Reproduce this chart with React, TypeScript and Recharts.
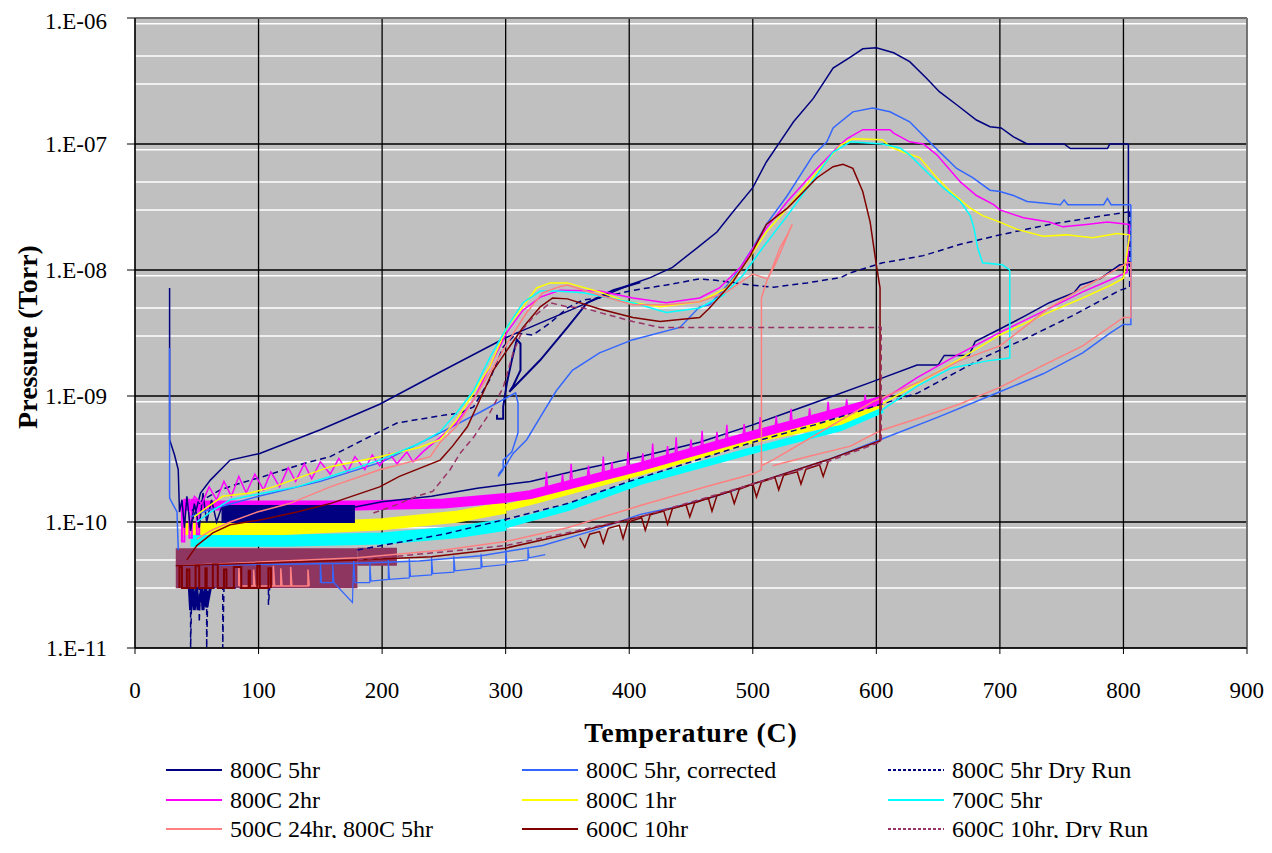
import React from 'react';
import { LineChart, Line, XAxis, YAxis, CartesianGrid, ReferenceLine } from 'recharts';

type Pt = [number, number];

// axes
const TEMP_TICKS = [0, 100, 200, 300, 400, 500, 600, 700, 800, 900];
const DECADES = [1e-11, 1e-10, 1e-9, 1e-8, 1e-7, 1e-6];
const MINOR_GRID = DECADES.slice(0, 5).flatMap((d) => [2, 3, 4, 5, 6, 7, 8, 9].map((k) => k * d));

// 800C 5hr
const N5_START: Pt[] = [[28, 7.2e-9], [28, 4.5e-10], [32, 3.4e-10], [35, 2.6e-10], [36, 1.2e-10], [38, 1.5e-10], [40, 9e-11], [42, 1.6e-10], [45, 8.5e-11], [48, 1.4e-10], [52, 9e-11], [55, 1.7e-10], [58, 1e-10], [62, 1.5e-10], [66, 1.0e-10], [70, 1.3e-10]];
const N5_BAND: Pt[] = [[70, 1.16e-10], [178, 1.16e-10]];
const N5_HEAT: Pt[] = [[175, 1.3e-10], [200, 1.45e-10], [240, 1.6e-10], [277, 1.85e-10], [320, 2.1e-10], [360, 2.6e-10], [409, 3.3e-10], [457, 4.3e-10], [500, 5.9e-10], [533, 7.7e-10], [560, 9.6e-10], [597, 1.3e-9], [633, 1.76e-9], [650, 1.76e-9], [655, 2.1e-9], [675, 2.1e-9], [680, 2.7e-9], [700, 3.4e-9], [720, 4.3e-9], [740, 5.5e-9], [760, 6.6e-9], [765, 7.6e-9], [781, 8.5e-9], [797, 1.1e-8], [804, 1.1e-8], [804, 1e-7]];
const N5_COOL: Pt[] = [[804, 1e-7], [789, 1e-7], [787, 9.2e-8], [757, 9.2e-8], [752, 1e-7], [722, 1e-7], [711, 1.14e-7], [701, 1.34e-7], [692, 1.37e-7], [681, 1.55e-7], [665, 2.05e-7], [651, 2.6e-7], [641, 3.3e-7], [627, 4.5e-7], [614, 5.3e-7], [600, 5.8e-7], [589, 5.7e-7], [579, 4.9e-7], [565, 4.0e-7], [549, 2.3e-7], [533, 1.5e-7], [522, 1.04e-7], [511, 7.2e-8], [500, 4.5e-8], [484, 2.9e-8], [471, 2.0e-8], [455, 1.5e-8], [435, 1.05e-8], [417, 8.7e-9], [400, 7.6e-9], [350, 4.7e-9], [300, 2.9e-9], [247, 1.55e-9], [198, 8.6e-10], [150, 5.4e-10], [101, 3.5e-10], [77, 3.1e-10], [61, 2.15e-10], [53, 1.7e-10], [50, 1.3e-10], [46, 1.0e-10]];
const N5_MID: Pt[] = [[293, 7.1e-10], [293, 6.6e-10], [298, 6.6e-10], [298, 8.2e-10], [301, 1.27e-9], [305, 1.93e-9], [309, 2.8e-9], [312, 2.6e-9], [312, 1.6e-9], [306, 1.2e-9], [303, 1.08e-9], [328, 1.93e-9], [350, 3.5e-9], [366, 5.5e-9], [387, 6.9e-9], [409, 8.0e-9]];
const N5_FLOOR: Pt[] = [[44, 3e-11], [45, 2e-11], [47, 3e-11], [48, 2e-11], [50, 3e-11], [51, 2e-11], [54, 3e-11], [55, 2e-11], [57, 3e-11], [58, 2.1e-11], [61, 3e-11]];

// 800C 5hr, corrected
const B_START: Pt[] = [[28, 2.4e-9], [28, 1.55e-10], [34, 1.2e-10], [35, 6e-11]];
const B_HEAT: Pt[] = [[35, 4.5e-11], [100, 4.6e-11], [180, 4.7e-11], [230, 4.9e-11], [280, 5.4e-11], [330, 6.5e-11], [370, 8.5e-11], [409, 1.15e-10], [435, 1.3e-10], [470, 1.6e-10], [500, 2.0e-10], [530, 2.5e-10], [560, 3.1e-10], [603, 4.5e-10], [650, 6.8e-10], [700, 1.08e-9], [735, 1.5e-9], [767, 2.2e-9], [790, 3.2e-9], [800, 3.7e-9], [806, 3.7e-9], [806, 3.3e-8]];
const B_NOISE: Pt[] = [[150, 3.3e-11], [150, 4.8e-11], [151, 3.3e-11], [160, 3.3e-11], [160, 4.6e-11], [161, 3.3e-11], [176, 2.3e-11], [177, 5e-11], [178, 3.3e-11], [190, 3.3e-11], [190, 4.8e-11], [191, 3.4e-11], [205, 3.5e-11], [205, 5e-11], [206, 3.5e-11], [222, 3.6e-11], [222, 5.1e-11], [223, 3.7e-11], [240, 3.8e-11], [240, 5.3e-11], [241, 3.9e-11], [258, 4.0e-11], [258, 5.4e-11], [259, 4.1e-11], [280, 4.3e-11], [280, 5.6e-11], [281, 4.4e-11], [300, 4.6e-11], [300, 6e-11], [301, 4.8e-11], [318, 5e-11], [318, 6.2e-11], [319, 5.2e-11], [332, 5.5e-11]];
const B_COOL: Pt[] = [[806, 3.3e-8], [790, 3.3e-8], [787, 3.7e-8], [784, 3.3e-8], [755, 3.3e-8], [752, 3.6e-8], [749, 3.3e-8], [722, 3.5e-8], [711, 3.9e-8], [700, 4.2e-8], [692, 4.3e-8], [678, 5.4e-8], [665, 6.4e-8], [643, 1.04e-7], [627, 1.5e-7], [611, 1.8e-7], [597, 1.93e-7], [581, 1.8e-7], [565, 1.34e-7], [560, 1.04e-7], [549, 8.2e-8], [528, 3.9e-8], [511, 2.3e-8], [500, 1.5e-8], [490, 1.05e-8], [482, 8.1e-9], [465, 5.3e-9], [457, 5.1e-9], [441, 3.5e-9], [403, 2.8e-9], [376, 2.2e-9], [354, 1.6e-9], [341, 1.1e-9], [328, 6.8e-10], [317, 4.5e-10], [306, 3.5e-10], [301, 2.9e-10], [295, 2.45e-10], [294, 2.3e-10], [298, 2.6e-10], [298, 3.1e-10], [305, 3.6e-10], [310, 5.1e-10], [310, 8.8e-10], [308, 1.06e-9], [280, 7.5e-10], [247, 5.1e-10], [200, 3.0e-10], [150, 2.1e-10], [100, 1.6e-10], [60, 1.25e-10], [45, 1.1e-10]];

// 800C 5hr Dry Run
const D_HEAT: Pt[] = [[180, 6e-11], [250, 8e-11], [300, 1.05e-10], [350, 1.4e-10], [400, 2.1e-10], [450, 3e-10], [500, 4.3e-10], [550, 5.9e-10], [597, 8.2e-10], [633, 1.05e-9], [686, 2.0e-9], [727, 3.05e-9], [760, 4.4e-9], [797, 6.9e-9], [805, 7.3e-9], [805, 2.9e-8]];
const D_COOL: Pt[] = [[805, 2.9e-8], [784, 2.7e-8], [740, 2.3e-8], [700, 1.9e-8], [668, 1.6e-8], [638, 1.3e-8], [605, 1.14e-8], [579, 9.5e-9], [571, 8.7e-9], [544, 7.9e-9], [517, 7.3e-9], [498, 7.6e-9], [470, 8.3e-9], [457, 8.5e-9], [430, 7.6e-9], [403, 6.9e-9], [376, 6.0e-9], [363, 5.8e-9], [350, 5.0e-9], [336, 3.8e-9], [322, 3.05e-9], [309, 3.16e-9], [298, 2.45e-9], [287, 1.34e-9], [274, 8.2e-10], [263, 7.3e-10], [252, 7.1e-10], [212, 6.1e-10], [185, 4.5e-10], [158, 3.3e-10], [136, 2.9e-10], [104, 2.3e-10], [83, 2.0e-10], [69, 1.8e-10], [55, 1.5e-10], [45, 1.2e-10]];
const D_SPIKES: Pt[] = [[40, 3e-11], [45, 3e-11], [45, 1e-11], [46, 3e-11], [52, 3e-11], [52, 1.6e-11], [53, 3e-11], [58, 3e-11], [58, 1e-11], [59, 3e-11], [71, 3e-11], [71, 1e-11], [72, 3e-11], [108, 3e-11], [108, 2.2e-11], [109, 3e-11]];

// 800C 2hr
const M_LEFT: Pt[] = [[38, 1.5e-10], [38, 7e-11], [40, 7e-11], [40, 1.5e-10], [44, 1.5e-10], [44, 7.5e-11], [46, 7.5e-11], [46, 1.5e-10], [50, 1.5e-10], [50, 8e-11], [52, 8e-11], [52, 1.4e-10]];
const M_BAND_L: Pt[] = [[38, 1.35e-10], [100, 1.35e-10], [180, 1.35e-10], [250, 1.4e-10], [300, 1.55e-10]];
const M_BAND_R: Pt[] = [[300, 1.55e-10], [320, 1.65e-10], [409, 2.75e-10], [500, 4.9e-10], [571, 7.5e-10], [605, 9.3e-10]];
const M_SPIKES: Pt[] = [[332, 1.75e-10], [333, 2.5e-10], [334, 1.75e-10], [345, 1.9e-10], [346, 2.4e-10], [347, 1.9e-10], [352, 2.0e-10], [353, 2.9e-10], [354, 2.0e-10], [366, 2.2e-10], [367, 2.8e-10], [368, 2.2e-10], [378, 2.3e-10], [379, 3.3e-10], [380, 2.3e-10], [385, 2.4e-10], [386, 3.0e-10], [387, 2.4e-10], [398, 2.6e-10], [399, 3.6e-10], [400, 2.6e-10], [410, 2.8e-10], [411, 3.5e-10], [412, 2.8e-10], [418, 2.95e-10], [419, 4.2e-10], [420, 2.95e-10], [430, 3.2e-10], [431, 4.0e-10], [432, 3.2e-10], [437, 3.3e-10], [438, 4.7e-10], [439, 3.3e-10], [449, 3.6e-10], [450, 4.5e-10], [451, 3.6e-10], [458, 3.8e-10], [459, 5.3e-10], [460, 3.8e-10], [470, 4.1e-10], [471, 5.2e-10], [472, 4.1e-10], [478, 4.3e-10], [479, 5.9e-10], [480, 4.3e-10], [492, 4.7e-10], [493, 6.0e-10], [494, 4.7e-10], [505, 5.0e-10], [506, 6.8e-10], [507, 5.0e-10], [518, 5.5e-10], [519, 6.9e-10], [520, 5.5e-10], [530, 5.9e-10], [531, 7.9e-10], [532, 5.9e-10], [545, 6.4e-10], [546, 8.0e-10], [547, 6.4e-10], [560, 7.0e-10], [561, 9.0e-10], [562, 7.0e-10], [575, 7.7e-10], [576, 9.4e-10], [577, 7.7e-10], [590, 8.5e-10], [591, 1.02e-9], [592, 8.5e-10]];
const M_HEAT: Pt[] = [[605, 9.3e-10], [633, 1.4e-9], [665, 2.1e-9], [700, 3.2e-9], [735, 4.7e-9], [767, 6.7e-9], [790, 8.4e-9], [803, 9.6e-9], [805, 2.3e-8]];
const M_COOL: Pt[] = [[805, 2.3e-8], [787, 2.4e-8], [770, 2.3e-8], [751, 2.2e-8], [740, 2.4e-8], [719, 2.6e-8], [700, 3.0e-8], [695, 3.3e-8], [681, 3.9e-8], [668, 5.0e-8], [649, 8.2e-8], [638, 1.0e-7], [627, 1.04e-7], [614, 1.22e-7], [611, 1.3e-7], [589, 1.3e-7], [576, 1.1e-7], [568, 9.3e-8], [552, 6.4e-8], [528, 3.5e-8], [511, 2.15e-8], [490, 1.05e-8], [473, 7.2e-9], [457, 6.0e-9], [430, 5.5e-9], [403, 6.0e-9], [376, 6.8e-9], [344, 6.9e-9], [328, 6.1e-9], [314, 4.8e-9], [301, 3.2e-9], [287, 1.7e-9], [274, 9.3e-10], [260, 6.1e-10], [247, 4.7e-10], [233, 3.6e-10], [225, 3.0e-10], [220, 3.6e-10], [212, 2.9e-10], [206, 3.5e-10], [198, 2.8e-10], [192, 3.4e-10], [186, 2.6e-10], [178, 3.3e-10], [172, 2.5e-10], [165, 3.2e-10], [158, 2.4e-10], [150, 3.0e-10], [143, 2.2e-10], [137, 2.9e-10], [130, 2.1e-10], [124, 2.7e-10], [117, 1.9e-10], [110, 2.5e-10], [104, 1.8e-10], [97, 2.4e-10], [90, 1.7e-10], [84, 2.3e-10], [78, 1.6e-10], [72, 2.1e-10], [66, 1.5e-10], [60, 1.9e-10], [54, 1.4e-10], [48, 1.6e-10], [44, 1.2e-10]];

// 800C 1hr
const Y_BAND_L: Pt[] = [[38, 8.8e-11], [120, 8.8e-11], [200, 9.6e-11], [260, 1.1e-10], [300, 1.3e-10]];
const Y_BAND_R: Pt[] = [[300, 1.3e-10], [320, 1.45e-10], [409, 2.5e-10], [500, 4.5e-10], [571, 6.3e-10], [605, 8.7e-10]];
const Y_HEAT: Pt[] = [[605, 8.7e-10], [633, 1.25e-9], [665, 1.9e-9], [700, 3.05e-9], [735, 4.4e-9], [767, 6.0e-9], [790, 7.6e-9], [800, 8.6e-9], [805, 1.9e-8]];
const Y_COOL: Pt[] = [[805, 1.9e-8], [795, 1.95e-8], [775, 1.8e-8], [754, 1.9e-8], [735, 1.85e-8], [714, 2.1e-8], [700, 2.4e-8], [686, 2.7e-8], [676, 3.1e-8], [660, 4.2e-8], [649, 5.4e-8], [635, 7.8e-8], [622, 8.6e-8], [611, 9.5e-8], [605, 1.08e-7], [581, 1.1e-7], [571, 9.8e-8], [552, 6.0e-8], [528, 3.1e-8], [511, 2.0e-8], [495, 1.16e-8], [479, 7.2e-9], [457, 5.6e-9], [425, 5.1e-9], [398, 5.6e-9], [376, 6.7e-9], [350, 7.9e-9], [336, 7.9e-9], [325, 7.2e-9], [314, 5.1e-9], [301, 3.5e-9], [287, 1.7e-9], [274, 1.06e-9], [260, 6.4e-10], [247, 4.5e-10], [230, 3.9e-10], [198, 3.3e-10], [158, 2.75e-10], [130, 2.2e-10], [112, 1.9e-10], [93, 1.7e-10], [71, 1.6e-10], [58, 1.3e-10], [48, 1.1e-10]];

// 700C 5hr
const C_BAND_L: Pt[] = [[45, 7.1e-11], [120, 7.1e-11], [200, 7.4e-11], [260, 8.3e-11], [300, 9.5e-11]];
const C_BAND_R: Pt[] = [[300, 9.5e-11], [350, 1.3e-10], [409, 2.1e-10], [500, 3.7e-10], [571, 5.6e-10], [605, 7.8e-10]];
const C_HEAT: Pt[] = [[605, 7.8e-10], [633, 1.2e-9], [660, 1.66e-9], [690, 1.9e-9], [708, 2.0e-9], [708, 1.0e-8]];
const C_COOL: Pt[] = [[708, 1.0e-8], [702, 1.1e-8], [686, 1.14e-8], [682, 1.5e-8], [679, 2.15e-8], [676, 2.7e-8], [668, 3.5e-8], [654, 4.5e-8], [638, 6.4e-8], [627, 8.2e-8], [619, 9.3e-8], [605, 1.0e-7], [579, 1.04e-7], [576, 1.0e-7], [565, 8.6e-8], [552, 5.7e-8], [528, 2.7e-8], [508, 1.5e-8], [492, 9.1e-9], [476, 6.3e-9], [457, 5.0e-9], [430, 4.6e-9], [403, 5.5e-9], [363, 6.6e-9], [341, 6.8e-9], [328, 6.8e-9], [314, 5.5e-9], [301, 3.5e-9], [287, 2.0e-9], [274, 1.1e-9], [260, 7.3e-10], [247, 5.2e-10], [230, 4.2e-10], [198, 3.1e-10], [158, 2.3e-10], [131, 1.9e-10], [104, 1.7e-10], [77, 1.5e-10], [61, 1.2e-10], [50, 1.0e-10]];

// 500C 24hr, 800C 5hr
const S_RUN1: Pt[] = [[35, 4.5e-11], [180, 5.2e-11], [250, 6e-11], [300, 7e-11], [350, 9e-11], [409, 1.35e-10], [435, 1.6e-10], [470, 2e-10], [500, 2.4e-10], [507, 2.6e-10], [507, 6e-9], [511, 8e-9], [516, 1.05e-8], [522, 1.5e-8], [528, 1.9e-8], [532, 2.3e-8], [530, 2.1e-8], [524, 1.5e-8], [518, 1.1e-8], [512, 8.5e-9], [500, 9.3e-9], [495, 8.6e-9], [479, 6.7e-9], [457, 5.6e-9], [430, 5.3e-9], [403, 5.3e-9], [376, 6.3e-9], [350, 7.6e-9], [344, 7.4e-9], [330, 6.6e-9], [317, 4.6e-9], [303, 2.8e-9], [290, 1.7e-9], [274, 9.3e-10], [260, 5.7e-10], [247, 4.3e-10], [239, 3.3e-10], [198, 2.6e-10], [158, 1.9e-10], [125, 1.4e-10], [99, 1.2e-10], [77, 1.0e-10], [61, 8.5e-11], [50, 7.3e-11]];
const S_RUN2: Pt[] = [[507, 2.8e-10], [516, 3.1e-10], [571, 6.4e-10], [597, 9.0e-10], [635, 1.3e-9], [667, 1.9e-9], [700, 2.5e-9], [740, 5.0e-9], [767, 7.2e-9], [797, 1.05e-8], [803, 1.14e-8], [806, 1.14e-8], [806, 4.2e-9], [800, 4.2e-9], [767, 2.5e-9], [735, 1.75e-9], [700, 1.17e-9], [667, 8.6e-10], [633, 6.6e-10], [603, 5.3e-10], [579, 4.0e-10], [544, 3.3e-10], [516, 2.8e-10]];
const S_STRIPES: Pt[] = [[84, 3.1e-11], [84, 4.4e-11], [85, 3.1e-11], [96, 3.1e-11], [96, 4.2e-11], [97, 3.1e-11], [112, 3.1e-11], [112, 4.5e-11], [113, 3.1e-11], [118, 3.1e-11], [118, 4.3e-11], [119, 3.1e-11], [126, 3.1e-11], [126, 4.4e-11], [127, 3.1e-11], [140, 3.1e-11], [140, 4.2e-11], [141, 3.1e-11]];

// 600C 10hr
const R_RUN: Pt[] = [[33, 4.5e-11], [180, 5.0e-11], [240, 5.3e-11], [300, 6.2e-11], [350, 8e-11], [409, 1.1e-10], [455, 1.45e-10], [500, 2.0e-10], [530, 2.5e-10], [560, 3.1e-10], [600, 4.3e-10], [603, 4.4e-10], [603, 7.2e-9], [600, 1.1e-8], [595, 2.4e-8], [589, 4.2e-8], [581, 6.4e-8], [573, 6.9e-8], [565, 6.6e-8], [552, 5.4e-8], [528, 3.1e-8], [511, 2.3e-8], [498, 1.3e-8], [484, 8.1e-9], [465, 5.0e-9], [457, 4.2e-9], [425, 3.9e-9], [403, 4.2e-9], [376, 4.9e-9], [350, 5.9e-9], [338, 6.0e-9], [328, 5.1e-9], [314, 3.5e-9], [301, 2.3e-9], [290, 1.6e-9], [279, 9.3e-10], [269, 5.7e-10], [257, 4.0e-10], [247, 3.1e-10], [214, 2.3e-10], [198, 1.9e-10], [158, 1.4e-10], [131, 1.2e-10], [104, 1.05e-10], [77, 9.5e-11], [63, 8.2e-11], [50, 6.5e-11], [42, 5e-11]];
const R_NOISE: Pt[] = [[360, 7.5e-11], [364, 6.3e-11], [368, 8e-11], [376, 8.4e-11], [379, 6.8e-11], [383, 8.9e-11], [392, 9.4e-11], [395, 7.4e-11], [399, 1.0e-10], [410, 1.08e-10], [413, 8.6e-11], [417, 1.14e-10], [428, 1.22e-10], [431, 9.6e-11], [435, 1.28e-10], [446, 1.37e-10], [449, 1.1e-10], [453, 1.42e-10], [464, 1.55e-10], [467, 1.22e-10], [471, 1.62e-10], [482, 1.75e-10], [485, 1.4e-10], [489, 1.82e-10], [500, 2.0e-10], [503, 1.58e-10], [507, 2.08e-10], [518, 2.25e-10], [521, 1.8e-10], [525, 2.35e-10], [536, 2.5e-10], [539, 2.0e-10], [543, 2.62e-10], [554, 2.85e-10], [557, 2.3e-10], [561, 3.0e-10]];
const R_STRIPES: Pt[] = [[36, 3e-11], [36, 4.4e-11], [38, 4.4e-11], [38, 3e-11], [42, 3e-11], [42, 4.2e-11], [44, 4.2e-11], [44, 3e-11], [49, 3e-11], [49, 4.5e-11], [52, 4.5e-11], [52, 3e-11], [57, 3e-11], [57, 4.3e-11], [58, 4.3e-11], [58, 3e-11], [63, 3e-11], [63, 4.6e-11], [67, 4.6e-11], [67, 3e-11], [72, 3e-11], [72, 4.2e-11], [74, 4.2e-11], [74, 3e-11], [80, 3e-11], [80, 4.4e-11], [86, 4.4e-11], [86, 3e-11], [92, 3e-11], [92, 4.1e-11], [93, 4.1e-11], [93, 3e-11], [99, 3e-11], [99, 4.5e-11], [101, 4.5e-11], [101, 3e-11], [108, 3e-11], [108, 4.3e-11], [110, 4.3e-11], [110, 3e-11]];

// 600C 10hr, Dry Run
const P_BLOCK: Pt[] = [[33, 4.3e-11], [180, 4.3e-11]];
const P_BLOCK2: Pt[] = [[180, 5.3e-11], [212, 5.3e-11]];
const P_RUN: Pt[] = [[180, 5e-11], [250, 5.8e-11], [300, 6.5e-11], [350, 8.2e-11], [409, 1.1e-10], [500, 2.0e-10], [560, 3.0e-10], [600, 4.2e-10], [604, 4.4e-10], [604, 3.5e-9], [597, 3.5e-9], [540, 3.5e-9], [500, 3.5e-9], [457, 3.5e-9], [425, 3.5e-9], [403, 3.9e-9], [376, 4.6e-9], [363, 5.0e-9], [350, 5.1e-9], [336, 5.5e-9], [322, 4.2e-9], [314, 3.4e-9], [306, 2.2e-9], [298, 1.17e-9], [287, 7.3e-10], [274, 4.7e-10], [263, 3.5e-10], [255, 2.6e-10], [241, 1.75e-10], [228, 1.6e-10], [210, 1.35e-10], [190, 1.15e-10]];

const NAVY = '#000080';
const BLUE = '#3366FF';
const MAGENTA = '#FF00FF';
const YELLOW = '#FFFF00';
const CYAN = '#00FFFF';
const SALMON = '#FF8080';
const MAROON = '#800000';
const MAUVE = '#993366';
const BLOCK = '#8E3560';

const LEGEND = [
  { name: '800C 5hr', color: NAVY, dash: false },
  { name: '800C 5hr, corrected', color: BLUE, dash: false },
  { name: '800C 5hr Dry Run', color: NAVY, dash: true },
  { name: '800C 2hr', color: MAGENTA, dash: false },
  { name: '800C 1hr', color: YELLOW, dash: false },
  { name: '700C 5hr', color: CYAN, dash: false },
  { name: '500C 24hr, 800C 5hr', color: SALMON, dash: false },
  { name: '600C 10hr', color: MAROON, dash: false },
  { name: '600C 10hr, Dry Run', color: MAUVE, dash: true },
];

// drawing order: dense noise bands first, then the traces in legend order
const SEGMENTS: { pts: Pt[]; color: string; w: number; dash?: boolean }[] = [
  { pts: P_BLOCK, color: BLOCK, w: 40 },
  { pts: P_BLOCK2, color: BLOCK, w: 18 },
  { pts: C_BAND_L, color: CYAN, w: 12 },
  { pts: C_BAND_R, color: CYAN, w: 7 },
  { pts: Y_BAND_L, color: YELLOW, w: 12 },
  { pts: Y_BAND_R, color: YELLOW, w: 7 },
  { pts: M_BAND_L, color: MAGENTA, w: 10 },
  { pts: M_BAND_R, color: MAGENTA, w: 9 },
  { pts: M_LEFT, color: MAGENTA, w: 2 },
  { pts: N5_BAND, color: NAVY, w: 18 },
  { pts: N5_START, color: NAVY, w: 1.5 },
  { pts: N5_HEAT, color: NAVY, w: 1.5 },
  { pts: N5_COOL, color: NAVY, w: 1.5 },
  { pts: N5_MID, color: NAVY, w: 2 },
  { pts: N5_FLOOR, color: NAVY, w: 3 },
  { pts: B_START, color: BLUE, w: 1.5 },
  { pts: B_HEAT, color: BLUE, w: 1.5 },
  { pts: B_NOISE, color: BLUE, w: 1.2 },
  { pts: B_COOL, color: BLUE, w: 1.5 },
  { pts: D_HEAT, color: NAVY, w: 1.5, dash: true },
  { pts: D_COOL, color: NAVY, w: 1.5, dash: true },
  { pts: D_SPIKES, color: NAVY, w: 1.5, dash: true },
  { pts: M_SPIKES, color: MAGENTA, w: 1.5 },
  { pts: M_HEAT, color: MAGENTA, w: 1.5 },
  { pts: M_COOL, color: MAGENTA, w: 1.5 },
  { pts: Y_HEAT, color: YELLOW, w: 1.5 },
  { pts: Y_COOL, color: YELLOW, w: 1.5 },
  { pts: C_HEAT, color: CYAN, w: 1.5 },
  { pts: C_COOL, color: CYAN, w: 1.5 },
  { pts: S_RUN1, color: SALMON, w: 1.5 },
  { pts: S_RUN2, color: SALMON, w: 1.5 },
  { pts: S_STRIPES, color: SALMON, w: 1.5 },
  { pts: R_RUN, color: MAROON, w: 1.5 },
  { pts: R_NOISE, color: MAROON, w: 1.5 },
  { pts: R_STRIPES, color: MAROON, w: 2 },
  { pts: P_RUN, color: MAUVE, w: 1.5, dash: true },
];

const FONT = '"Times New Roman", "Liberation Serif", serif';

const toXY = (pts: Pt[]) => pts.map(([x, y]) => ({ x, y }));

const fmtPressure = (v: number) => {
  const e = Math.round(-Math.log10(v));
  return `1.E-${String(e).padStart(2, '0')}`;
};

export default function App() {
  return (
    <div style={{ position: 'relative', width: 1256, height: 830, fontFamily: FONT, background: '#fff' }}>
      <style>{'html { overflow: hidden; }'}</style>
      <LineChart width={1256} height={700} margin={{ top: 10, right: 17, bottom: 30, left: 40 }}>
        <CartesianGrid fill="#C0C0C0" stroke="#FFFFFF" strokeWidth={1.5} vertical={false} horizontalValues={MINOR_GRID} />
        <CartesianGrid stroke="#000000" strokeWidth={1.3} horizontalValues={DECADES} verticalValues={TEMP_TICKS} />
        <XAxis
          type="number"
          dataKey="x"
          domain={[0, 900]}
          ticks={TEMP_TICKS}
          height={30}
          tickSize={6}
          tickMargin={28}
          stroke="#000"
          tick={{ fill: '#000', fontSize: 23, fontFamily: FONT }}
          allowDataOverflow
        />
        <YAxis
          type="number"
          dataKey="y"
          scale="log"
          domain={[1e-11, 1e-6]}
          ticks={DECADES}
          tickFormatter={fmtPressure}
          width={87}
          tickSize={8}
          tickMargin={20}
          stroke="#000"
          tick={{ fill: '#000', fontSize: 23, fontFamily: FONT }}
          allowDataOverflow
        />
        {SEGMENTS.map((s, i) => (
          <Line
            key={`seg-${i}`}
            data={toXY(s.pts)}
            dataKey="y"
            type="linear"
            stroke={s.color}
            strokeWidth={s.w}
            strokeDasharray={s.dash ? '6 4' : undefined}
            strokeLinecap="butt"
            dot={false}
            activeDot={false}
            isAnimationActive={false}
          />
        ))}
        <ReferenceLine y={1e-6} stroke="#808080" strokeWidth={1.5} />
        <ReferenceLine x={900} stroke="#808080" strokeWidth={1.5} />
      </LineChart>

      <div
        style={{
          position: 'absolute',
          left: 20,
          top: 329,
          transform: 'translate(-50%, -50%) rotate(-90deg)',
          fontWeight: 'bold',
          fontSize: 28,
          whiteSpace: 'nowrap',
        }}
      >
        Pressure (Torr)
      </div>
      <div
        style={{
          position: 'absolute',
          left: 683,
          top: 725,
          transform: 'translate(-50%, -50%)',
          fontWeight: 'bold',
          fontSize: 28,
          letterSpacing: 0.8,
          whiteSpace: 'nowrap',
        }}
      >
        Temperature (C)
      </div>

      {LEGEND.map((item, i) => {
        const col = i % 3;
        const row = Math.floor(i / 3);
        const left = [158, 514, 880][col];
        const top = [762, 792, 821][row];
        return (
          <div
            key={item.name}
            style={{ position: 'absolute', left, top, transform: 'translateY(-50%)', display: 'flex', alignItems: 'center', fontSize: 24, lineHeight: '26px', whiteSpace: 'nowrap' }}
          >
            <svg width={56} height={6} style={{ marginRight: 8 }}>
              <line x1={0} y1={3} x2={56} y2={3} stroke={item.color} strokeWidth={2} strokeDasharray={item.dash ? '3 2' : undefined} />
            </svg>
            <span>{item.name}</span>
          </div>
        );
      })}
    </div>
  );
}
